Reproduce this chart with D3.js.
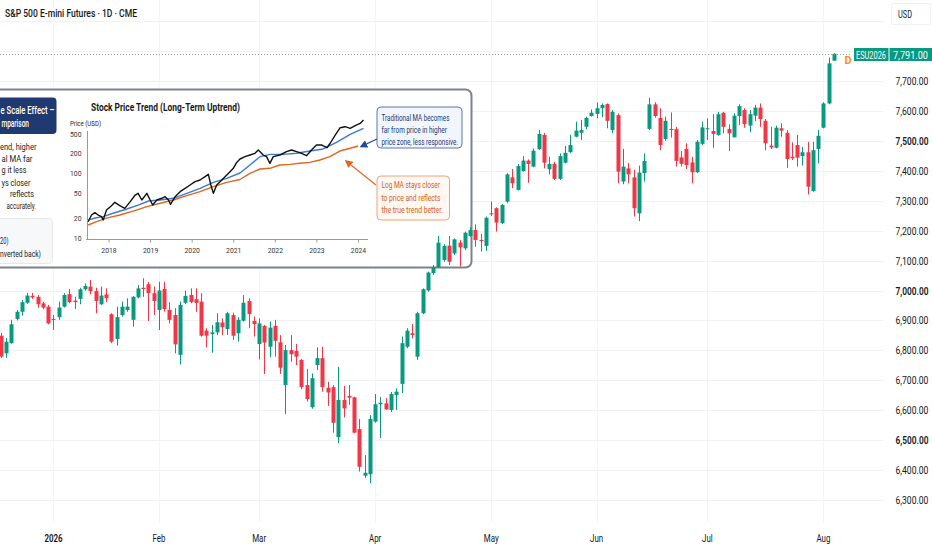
<!DOCTYPE html>
<html>
<head>
<meta charset="utf-8">
<title>S&amp;P 500 E-mini Futures</title>
<script src="https://cdn.jsdelivr.net/npm/d3@7"></script>
<style>
  body { margin: 0; background: #fff; }
  svg { display: block; font-family: Roboto, 'Noto Sans', sans-serif; }
</style>
</head>
<body>
<svg class="chart" width="932" height="550"></svg>
<script>
// daily candles, ESU2026
const opens = [6849, 6790, 6824, 6905, 6929, 6959, 6982, 6979, 6957, 6946,
  6905, 6911, 6946, 6988, 6966, 6972, 7004, 7013, 6998, 6954,
  6987, 6921, 6838, 6918, 6935, 6902, 6977, 7009, 7021, 6991,
  6935, 7005, 6935, 6918, 6785, 6959, 6985, 6971, 6963, 6866,
  6854, 6860, 6893, 6871, 6918, 6857, 6899, 6965, 6898, 6821,
  6882, 6812, 6882, 6827, 6684, 6801, 6798, 6768, 6684, 6610,
  6751, 6774, 6675, 6677, 6510, 6634, 6648, 6643, 6537, 6381,
  6386, 6562, 6620, 6623, 6601, 6651, 6688, 6812, 6857, 6779,
  6924, 7000, 7058, 7078, 7102, 7150, 7124, 7160, 7141, 7182,
  7202, 7169, 7149, 7255, 7275, 7225, 7297, 7378, 7336, 7399,
  7434, 7414, 7472, 7520, 7405, 7423, 7373, 7427, 7462, 7514,
  7527, 7547, 7583, 7590, 7609, 7623, 7536, 7586, 7364, 7408,
  7378, 7258, 7392, 7540, 7622, 7577, 7506, 7540, 7539, 7445,
  7473, 7428, 7395, 7490, 7539, 7533, 7520, 7594, 7540, 7512,
  7583, 7603, 7551, 7584, 7611, 7567, 7484, 7477, 7542, 7527,
  7447, 7486, 7449, 7462, 7332, 7473, 7544, 7625, 7768]
const highs = [6858, 6841, 6902, 6935, 6968, 6992, 6992, 6985, 6962, 6952,
  6918, 6963, 6991, 7005, 6979, 7009, 7024, 7035, 7009, 7013,
  7007, 6924, 6946, 6963, 6974, 6981, 7018, 7041, 7029, 7013,
  7029, 7029, 6961, 6941, 6963, 7000, 7007, 7007, 6991, 6874,
  6885, 6924, 6907, 6929, 6926, 6911, 6985, 6974, 6913, 6907,
  6885, 6896, 6902, 6851, 6818, 6851, 6821, 6771, 6738, 6723,
  6810, 6812, 6695, 6684, 6745, 6681, 6684, 6645, 6571, 6450,
  6584, 6654, 6644, 6640, 6661, 6673, 6846, 6874, 6888, 6929,
  7007, 7063, 7085, 7182, 7155, 7182, 7174, 7169, 7197, 7211,
  7221, 7189, 7247, 7297, 7278, 7289, 7392, 7406, 7423, 7449,
  7438, 7475, 7536, 7526, 7447, 7430, 7458, 7483, 7520, 7564,
  7570, 7581, 7605, 7628, 7625, 7625, 7603, 7592, 7473, 7426,
  7403, 7417, 7458, 7644, 7629, 7609, 7581, 7595, 7547, 7466,
  7492, 7447, 7503, 7564, 7575, 7589, 7597, 7597, 7555, 7592,
  7622, 7609, 7603, 7620, 7625, 7573, 7547, 7551, 7559, 7536,
  7495, 7520, 7480, 7497, 7497, 7536, 7629, 7778, 7793]
const lows = [6775, 6775, 6822, 6900, 6916, 6955, 6972, 6942, 6938, 6887,
  6868, 6902, 6943, 6957, 6938, 6954, 7000, 6987, 6924, 6952,
  6961, 6824, 6816, 6913, 6929, 6879, 6974, 6979, 6898, 6918,
  6868, 6929, 6890, 6790, 6753, 6954, 6957, 6929, 6846, 6810,
  6792, 6851, 6851, 6851, 6835, 6829, 6896, 6874, 6846, 6770,
  6721, 6777, 6779, 6721, 6587, 6762, 6751, 6670, 6629, 6605,
  6734, 6662, 6614, 6525, 6490, 6576, 6618, 6523, 6395, 6374,
  6356, 6558, 6507, 6601, 6594, 6601, 6657, 6807, 6840, 6768,
  6921, 6996, 7052, 7075, 7096, 7085, 7119, 7080, 7135, 7180,
  7146, 7130, 7133, 7249, 7197, 7222, 7293, 7342, 7334, 7397,
  7360, 7412, 7470, 7408, 7388, 7369, 7369, 7425, 7460, 7512,
  7503, 7539, 7581, 7575, 7579, 7542, 7525, 7358, 7355, 7358,
  7247, 7232, 7364, 7536, 7577, 7469, 7500, 7511, 7414, 7414,
  7406, 7358, 7393, 7486, 7503, 7477, 7517, 7525, 7466, 7511,
  7553, 7544, 7529, 7566, 7547, 7469, 7473, 7475, 7514, 7410,
  7436, 7414, 7417, 7321, 7330, 7425, 7542, 7622, 7767]
const closes = [6779, 6829, 6887, 6929, 6961, 6983, 6977, 6954, 6943, 6890,
  6902, 6943, 6985, 6961, 6961, 7004, 7015, 6998, 6965, 6983,
  6974, 6829, 6911, 6946, 6946, 6979, 7007, 7005, 6991, 6965,
  7000, 6938, 6902, 6820, 6952, 6982, 6961, 6958, 6849, 6849,
  6860, 6894, 6877, 6924, 6849, 6902, 6959, 6921, 6888, 6890,
  6826, 6876, 6832, 6742, 6801, 6787, 6779, 6677, 6637, 6707,
  6774, 6677, 6659, 6558, 6634, 6606, 6642, 6525, 6411, 6391,
  6571, 6620, 6625, 6603, 6654, 6662, 6824, 6866, 6851, 6924,
  7004, 7060, 7078, 7160, 7149, 7096, 7171, 7144, 7193, 7202,
  7169, 7165, 7243, 7258, 7227, 7286, 7388, 7358, 7416, 7434,
  7423, 7467, 7523, 7427, 7423, 7373, 7449, 7460, 7486, 7534,
  7536, 7577, 7594, 7609, 7620, 7567, 7597, 7397, 7414, 7388,
  7275, 7394, 7433, 7622, 7583, 7486, 7567, 7536, 7433, 7423,
  7419, 7395, 7497, 7545, 7542, 7523, 7589, 7547, 7525, 7584,
  7616, 7556, 7589, 7611, 7573, 7492, 7478, 7544, 7534, 7439,
  7442, 7444, 7462, 7347, 7469, 7517, 7625, 7759, 7791]

// time axis
const monthLabels = ['2026', 'Feb', 'Mar', 'Apr', 'May', 'Jun', 'Jul', 'Aug']
const monthIndex = [10, 30, 49, 71, 93, 113, 134, 156]

// price axis (7,800 sits under the last-price label)
const priceTicks = [6300, 6400, 6500, 6600, 6700, 6800, 6900, 7000, 7100, 7200, 7300, 7400, 7500, 7600, 7700]
const gridPrices = priceTicks.concat([7800, 7900])
const boldPrices = [6500, 7000, 7500]

// inset picture: long-term uptrend, log price
const insetTitle = 'Stock Price Trend (Long-Term Uptrend)'
const insetPriceTicks = [10, 20, 50, 100, 200, 500]
const insetYearTicks = [2018, 2019, 2020, 2021, 2022, 2023, 2024]
const priceYears = [2017.50, 2017.58, 2017.66, 2017.74, 2017.82, 2017.86, 2017.94,
  2018.06, 2018.14, 2018.26, 2018.38, 2018.51, 2018.63, 2018.70, 2018.79, 2018.91, 2018.99,
  2019.05, 2019.15, 2019.27, 2019.35, 2019.43, 2019.48, 2019.59, 2019.71, 2019.83, 2019.95,
  2020.07, 2020.19, 2020.31, 2020.39, 2020.45, 2020.51, 2020.59, 2020.67, 2020.79, 2020.91, 2020.99,
  2021.07, 2021.15, 2021.27, 2021.39, 2021.51, 2021.59, 2021.71, 2021.79, 2021.87, 2021.95,
  2022.11, 2022.27, 2022.39, 2022.51, 2022.63, 2022.75, 2022.87, 2022.99,
  2023.12, 2023.24, 2023.32, 2023.44, 2023.56, 2023.68, 2023.80, 2023.92, 2024.04, 2024.12]
const priceValues = [17.6, 22.3, 24.3, 22.3, 21.0, 18.7, 26.8,
  31.4, 35.5, 31.4, 28.5, 36.4, 46.4, 49.4, 38.7, 49.4, 38.7,
  32.2, 38.7, 41.2, 43.7, 38.7, 33.0, 43.7, 52.3, 58.8, 66.0,
  74.0, 78.5, 88.0, 95.6, 66.0, 49.4, 66.0, 74.0, 88.0, 104.6, 117.6,
  144.4, 162.5, 176, 186.6, 198, 231, 186.6, 176, 139.9, 176,
  186.6, 213, 231, 213, 198, 182, 231, 294,
  294, 258, 320, 476, 677, 711, 658, 746, 834, 984]
const maYears = [2017.50, 2017.70, 2017.86, 2018.10, 2018.43, 2018.75, 2018.95, 2019.23, 2019.55, 2019.87,
  2020.19, 2020.51, 2020.83, 2021.15, 2021.39, 2021.63, 2021.87, 2022.19, 2022.51, 2022.83,
  2023.15, 2023.47, 2023.80, 2024.12]
const maValues = [18.7, 20.2, 21.0, 23.8, 27.8, 33.0, 37.3, 38.7, 41.2, 49.4,
  58.8, 72.4, 83.2, 100, 132, 176, 191, 191, 198, 220,
  243, 335, 493, 658]
const logMaYears = [2017.50, 2017.70, 2017.94, 2018.26, 2018.58, 2018.91, 2019.23, 2019.55, 2019.87, 2020.19,
  2020.51, 2020.83, 2021.15, 2021.39, 2021.63, 2021.87, 2022.11, 2022.35, 2022.59, 2022.83,
  2023.07, 2023.31, 2023.55, 2023.80, 2023.99]
const logMaValues = [15.7, 17.6, 19.9, 22.3, 25.8, 30.3, 34.3, 38.7, 45.3, 52.3,
  62.2, 72.4, 79.8, 99, 114.9, 117.6, 132, 135, 140, 144.4,
  157, 176, 220, 251, 280]

const GREEN = '#089981'
const RED = '#f23645'
const TEXT = '#131722'

const svg = d3.select('.chart')
const x = d3.scaleLinear().domain([0, opens.length - 1]).range([0.7, 834])
const y = d3.scaleLinear().domain([6300, 7700]).range([500, 81])
const fmt = d3.format(',.2f')

/**
 * Same as squeeze but keeps the text centred on its x.
 *
 * @param {*} sel d3 selection of text elements
 * @param {number} k shrink factor
 */
function squeezeCentered (sel, k) {
  sel.each(function () {
    const t = d3.select(this)
    const w = this.getComputedTextLength() * k
    t.attr('text-anchor', 'start')
      .attr('x', +t.attr('x') - w / 2)
      .attr('textLength', w)
      .attr('lengthAdjust', 'spacingAndGlyphs')
  })
}

/**
 * Scales start-anchored texts horizontally so each one is exactly `width` wide.
 * Uses a transform, so the real box of the text shrinks too.
 *
 * @param {*} sel d3 selection of text elements with x and y set
 * @param {number|Function} width wanted width in pixels, or accessor on the datum
 */
function fitWidth (sel, width) {
  sel.each(function (d) {
    const t = d3.select(this)
    const w = typeof width === 'function' ? width(d) : width
    const k = w / this.getComputedTextLength()
    const tx = +t.attr('x')
    const ty = +t.attr('y')
    t.attr('x', 0).attr('y', 0)
      .attr('transform', `translate(${tx},${ty}) scale(${k},1)`)
  })
}

/**
 * Light horizontal and vertical grid of the main pane
 */
function drawGrid () {
  const g = svg.append('g').attr('class', 'grid')
  g.selectAll('.h')
    .data(gridPrices)
    .enter()
    .append('line')
    .attr('x1', 0)
    .attr('x2', 884)
    .attr('y1', d => Math.round(y(d)) + 0.5)
    .attr('y2', d => Math.round(y(d)) + 0.5)
    .attr('stroke', '#f0f2f5')
  g.selectAll('.v')
    .data(monthIndex)
    .enter()
    .append('line')
    .attr('x1', d => Math.round(x(d)) + 0.5)
    .attr('x2', d => Math.round(x(d)) + 0.5)
    .attr('y1', 0)
    .attr('y2', 522)
    .attr('stroke', '#f3f4f6')
}

/**
 * Writes a list of [text, x, y, width] rows into a group
 *
 * @param {*} g parent selection
 * @param {Array} rows the rows
 */
function writeRows (g, rows) {
  g.selectAll('text')
    .data(rows)
    .enter()
    .append('text')
    .attr('x', d => d[1])
    .attr('y', d => d[2])
    .text(d => d[0])
  fitWidth(g.selectAll('text'), d => d[3])
}

/**
 * The pasted explanation picture sitting over the left half of the chart
 */
function drawInset () {
  const g = svg.append('g').attr('class', 'inset')
  const defs = svg.append('defs')
  defs.append('marker').attr('id', 'arrow-blue')
    .attr('viewBox', '0 0 10 10').attr('refX', 8).attr('refY', 5)
    .attr('markerWidth', 6).attr('markerHeight', 6).attr('orient', 'auto')
    .append('path').attr('d', 'M0,0L10,5L0,10z').attr('fill', '#27479a')
  defs.append('marker').attr('id', 'arrow-orange')
    .attr('viewBox', '0 0 10 10').attr('refX', 8).attr('refY', 5)
    .attr('markerWidth', 6).attr('markerHeight', 6).attr('orient', 'auto')
    .append('path').attr('d', 'M0,0L10,5L0,10z').attr('fill', '#e0671e')

  g.append('rect')
    .attr('x', -12).attr('y', 89.5).attr('width', 483.5).attr('height', 178).attr('rx', 6)
    .attr('fill', '#fff').attr('stroke', '#7c818b').attr('stroke-width', 2)

  // left explanation column (cut by the window edge)
  g.append('rect')
    .attr('x', -12).attr('y', 97.5).attr('width', 68.5).attr('height', 36.5).attr('rx', 4)
    .attr('fill', '#1f3a70')
  writeRows(g.append('g').attr('fill', '#fff').attr('font-size', 10).attr('font-weight', 500),
    [['e Scale Effect –', 0.5, 113.5, 54], ['mparison', 1.5, 127, 27.5]])

  writeRows(g.append('g').attr('fill', '#222').attr('font-size', 9),
    [['end, higher', 0, 150, 36.5], ['al MA far', 1.5, 161.5, 31], ['g it less', 1.5, 173, 25],
      ['ys closer', 1.5, 185.5, 29], ['reflects', 10, 196.5, 24], ['accurately.', 6.5, 209, 29.5]])

  g.append('rect')
    .attr('x', -12).attr('y', 218.5).attr('width', 64.5).attr('height', 45).attr('rx', 3)
    .attr('fill', '#f7f8fa').attr('stroke', '#e6e8ec')
  writeRows(g.append('g').attr('fill', '#222').attr('font-size', 8.5),
    [['20)', 0, 243.5, 8.5], ['nverted back)', 0, 256.5, 41]])

  // small log chart
  const ix = d3.scaleLinear().domain([2018, 2024]).range([109, 358.5])
  const iy = d3.scaleLog().domain(insetPriceTicks).range([238, 218, 193, 173, 153, 134])

  g.append('text')
    .attr('x', 91).attr('y', 111)
    .attr('font-size', 10.5).attr('font-weight', 700).attr('fill', '#1a1a1a')
    .attr('textLength', 149).attr('lengthAdjust', 'spacingAndGlyphs')
    .text(insetTitle)
  g.append('text')
    .attr('x', 70).attr('y', 126)
    .attr('font-size', 7.5).attr('fill', '#222')
    .attr('textLength', 31).attr('lengthAdjust', 'spacingAndGlyphs')
    .text('Price (USD)')

  g.append('line').attr('x1', 87.5).attr('x2', 87.5).attr('y1', 131).attr('y2', 239.5)
    .attr('stroke', '#9a9a9a')
  g.append('line').attr('x1', 86).attr('x2', 368).attr('y1', 239.5).attr('y2', 239.5)
    .attr('stroke', '#9a9a9a')

  const yl = g.append('g').attr('font-size', 8).attr('fill', '#333')
  yl.selectAll('text')
    .data(insetPriceTicks)
    .enter()
    .append('text')
    .attr('y', d => iy(d) + 3)
    .text(d => d)
    .each(function () {
      const w = this.getComputedTextLength() * 0.85
      d3.select(this).attr('x', 81.5 - w).attr('textLength', w).attr('lengthAdjust', 'spacingAndGlyphs')
    })

  g.selectAll('.ytick')
    .data(insetYearTicks)
    .enter()
    .append('line')
    .attr('x1', d => ix(d)).attr('x2', d => ix(d))
    .attr('y1', 239.5).attr('y2', 242.5)
    .attr('stroke', '#9a9a9a')
  const xl = g.append('g').attr('font-size', 8).attr('fill', '#333')
  xl.selectAll('text')
    .data(insetYearTicks)
    .enter()
    .append('text')
    .attr('x', d => ix(d))
    .attr('y', 252.5)
    .text(d => d)
  squeezeCentered(xl.selectAll('text'), 0.85)

  const line = d3.line().x(d => ix(d[0])).y(d => iy(d[1]))
  const series = [
    { pts: d3.zip(logMaYears, logMaValues), color: '#e0661c' },
    { pts: d3.zip(maYears, maValues), color: '#3a7bd5' },
    { pts: d3.zip(priceYears, priceValues), color: '#111' }
  ]
  g.selectAll('.series')
    .data(series)
    .enter()
    .append('path')
    .attr('d', d => line(d.pts))
    .attr('fill', 'none')
    .attr('stroke', d => d.color)
    .attr('stroke-width', 1.4)
    .attr('stroke-linejoin', 'round')

  // callouts
  g.append('rect')
    .attr('x', 377).attr('y', 107).attr('width', 85).attr('height', 41).attr('rx', 4)
    .attr('fill', '#f1f5fc').attr('stroke', '#5d77ad')
  writeRows(g.append('g').attr('fill', '#1d3a78').attr('font-size', 8.5),
    [['Traditional MA becomes', 381.5, 120.5, 68], ['far from price in higher', 381.5, 133, 65.5],
      ['price zone, less responsive.', 381.5, 144.5, 76.5]])
  g.append('line').attr('x1', 377).attr('y1', 139).attr('x2', 361).attr('y2', 146.5)
    .attr('stroke', '#27479a').attr('stroke-width', 1.3).attr('marker-end', 'url(#arrow-blue)')

  g.append('rect')
    .attr('x', 377).attr('y', 176).attr('width', 72.5).attr('height', 44).attr('rx', 4)
    .attr('fill', '#fff8f2').attr('stroke', '#eaa676')
  writeRows(g.append('g').attr('fill', '#d2601a').attr('font-size', 8.5),
    [['Log MA stays closer', 381.5, 188, 58.5], ['to price and reflects', 381.5, 200.5, 59],
      ['the true trend better.', 381.5, 213, 61.5]])
  g.append('line').attr('x1', 376).attr('y1', 185).attr('x2', 346).attr('y2', 161)
    .attr('stroke', '#e0671e').attr('stroke-width', 1.3).attr('marker-end', 'url(#arrow-orange)')
}

/**
 * Daily OHLC candles
 */
function drawCandles () {
  const data = opens.map((o, i) => ({ i, o, h: highs[i], l: lows[i], c: closes[i] }))
  const color = d => (d.c >= d.o ? GREEN : RED)
  const g = svg.append('g').attr('class', 'candles')
  g.selectAll('.wick')
    .data(data)
    .enter()
    .append('line')
    .attr('x1', d => Math.round(x(d.i)) + 0.5)
    .attr('x2', d => Math.round(x(d.i)) + 0.5)
    .attr('y1', d => y(d.h))
    .attr('y2', d => y(d.l))
    .attr('stroke', color)
  g.selectAll('.body')
    .data(data)
    .enter()
    .append('rect')
    .attr('x', d => Math.round(x(d.i)) - 1.5)
    .attr('width', 4)
    .attr('y', d => y(Math.max(d.o, d.c)))
    .attr('height', d => Math.max(1, Math.abs(y(d.o) - y(d.c))))
    .attr('fill', color)
}

/**
 * Right price scale, time scale, header and last price label
 */
function drawAxes () {
  const right = svg.append('g').attr('font-size', 11)
  right.selectAll('text')
    .data(priceTicks)
    .enter()
    .append('text')
    .attr('x', 895.5)
    .attr('y', d => y(d) + 4)
    .attr('fill', TEXT)
    .attr('font-weight', d => (boldPrices.includes(d) ? 600 : 400))
    .text(d => fmt(d))
  fitWidth(right.selectAll('text'), 33)

  const bottom = svg.append('g').attr('font-size', 11)
  bottom.selectAll('text')
    .data(monthIndex)
    .enter()
    .append('text')
    .attr('x', d => x(d))
    .attr('y', 542)
    .attr('fill', TEXT)
    .attr('font-weight', (d, i) => (i === 0 ? 600 : 400))
    .text((d, i) => monthLabels[i])
  squeezeCentered(bottom.selectAll('text'), 0.72)

  svg.append('text')
    .attr('x', 5).attr('y', 17)
    .attr('font-size', 11).attr('font-weight', 500).attr('fill', TEXT)
    .attr('textLength', 132).attr('lengthAdjust', 'spacingAndGlyphs')
    .text('S&P 500 E-mini Futures · 1D · CME')
  svg.append('rect')
    .attr('x', 891.5).attr('y', 3.5).attr('width', 39).attr('height', 21).attr('rx', 2)
    .attr('fill', 'none').attr('stroke', '#eef0f3')
  const usd = svg.append('text')
    .attr('x', 898).attr('y', 18)
    .attr('font-size', 10.5).attr('fill', TEXT)
    .text('USD')
  fitWidth(usd, 14)

  // last price
  const last = closes[closes.length - 1]
  const ly = Math.round(y(last)) + 0.5
  svg.append('line')
    .attr('x1', 0).attr('x2', 852).attr('y1', ly).attr('y2', ly)
    .attr('stroke', '#9598a1').attr('stroke-dasharray', '1,2')
  svg.append('text')
    .attr('x', 848).attr('y', 64).attr('text-anchor', 'middle')
    .attr('font-size', 11).attr('font-weight', 700).attr('fill', '#f7931a')
    .text('D')
  svg.append('rect')
    .attr('x', 854).attr('y', ly - 6.5).attr('width', 34.5).attr('height', 13).attr('fill', GREEN)
  svg.append('rect')
    .attr('x', 889.5).attr('y', ly - 6.5).attr('width', 42.5).attr('height', 13).attr('fill', GREEN)
  const sym = svg.append('text')
    .attr('x', 856).attr('y', ly + 4)
    .attr('font-size', 10.5).attr('fill', '#fff')
    .text('ESU2026')
  fitWidth(sym, 30)
  const lastText = svg.append('text')
    .attr('x', 893).attr('y', ly + 4)
    .attr('font-size', 11).attr('fill', '#fff')
    .text(fmt(last))
  fitWidth(lastText, 35)
}

drawGrid()
drawInset()
drawCandles()
drawAxes()
</script>
</body>
</html>
